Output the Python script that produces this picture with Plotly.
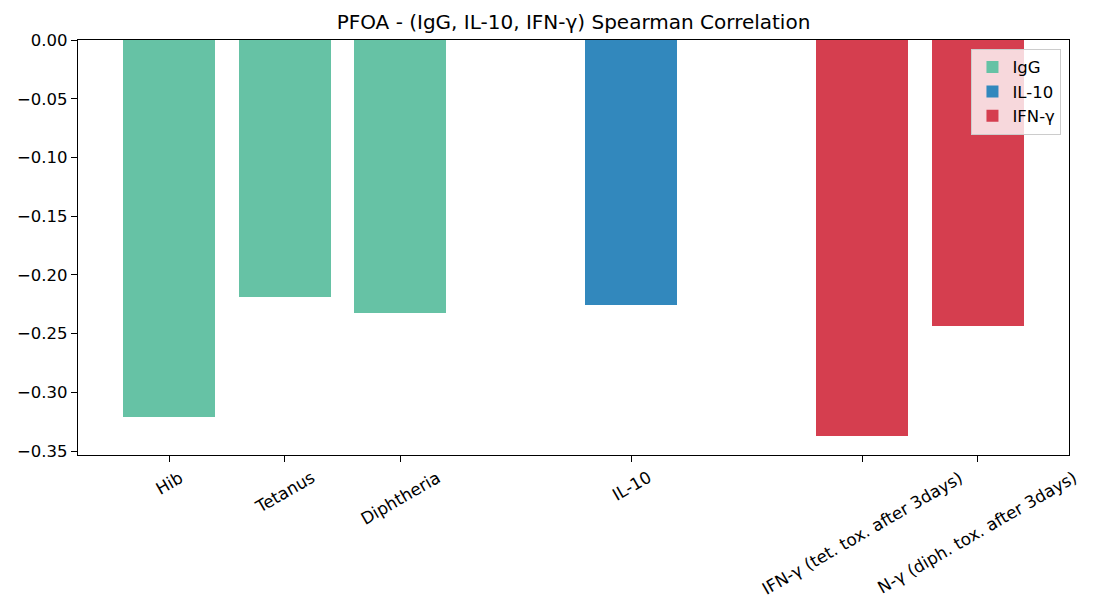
import plotly.graph_objects as go

# ---- data ----
groups = ["IgG", "IL-10", "IFN-γ"]
group_labels = [
    ["Hib", "Tetanus", "Diphtheria"],
    ["IL-10"],
    ["IFN-γ (tet. tox. after 3days)", "N-γ (diph. tox. after 3days)"],
]
group_values = [
    [-0.321, -0.219, -0.2325],
    [-0.2255],
    [-0.337, -0.2435],
]
group_colors = ["#66c2a5", "#3288bd", "#d53e4f"]
title_text = "PFOA - (IgG, IL-10, IFN-γ) Spearman Correlation"
y_ticks = [0.0, -0.05, -0.10, -0.15, -0.20, -0.25, -0.30, -0.35]

FONT = "DejaVu Sans"
TICK_SIZE = 16.5

fig = go.Figure()

all_pos = []
all_labels = []
idx = 0
for g, (name, labels, vals, col) in enumerate(zip(groups, group_labels, group_values, group_colors)):
    pos = []
    for lab in labels:
        pos.append(idx + g)  # one empty slot between groups
        all_labels.append(lab)
        idx += 1
    all_pos.extend(pos)
    fig.add_trace(go.Bar(
        x=pos, y=vals, name=name, width=0.8,
        marker=dict(color=col, line=dict(width=0)),
    ))

# rotated, centred tick labels (matplotlib style)
for p, lab in zip(all_pos, all_labels):
    fig.add_annotation(
        x=p, y=-0.022, xref="x", yref="paper",
        text=lab, textangle=-30, showarrow=False,
        xanchor="center", yanchor="top",
        font=dict(family=FONT, size=16.8, color="black"),
    )

span = max(all_pos) - min(all_pos) + 0.8
xmin = min(all_pos) - 0.4 - 0.05 * span
xmax = max(all_pos) + 0.4 + 0.05 * span

fig.update_layout(
    width=1093, height=600,
    margin=dict(l=78, r=23.5, t=39.5, b=145),
    paper_bgcolor="white", plot_bgcolor="white",
    font=dict(family=FONT, size=TICK_SIZE, color="black"),
    title=dict(
        text=title_text, x=0.5, xref="paper", xanchor="center",
        y=1, yref="paper", yanchor="bottom", pad=dict(b=11),
        font=dict(family=FONT, size=20, color="black"),
    ),
    bargap=0,
    showlegend=True,
    legend=dict(
        x=0.9924, xanchor="right", y=0.979, yanchor="top",
        bgcolor="rgba(255,255,255,0.8)", bordercolor="#cccccc", borderwidth=1,
        font=dict(family=FONT, size=TICK_SIZE, color="black"),
        traceorder="normal",
    ),
    xaxis=dict(
        range=[xmin, xmax], tickmode="array", tickvals=all_pos,
        showticklabels=False, ticks="outside", ticklen=6, tickwidth=1.3,
        tickcolor="black", showline=True, linecolor="black", linewidth=1.3,
        mirror=True, showgrid=False, zeroline=False,
    ),
    yaxis=dict(
        range=[-0.3534, 0.0], tickmode="array", tickvals=y_ticks,
        tickformat=".2f", ticks="outside", ticklen=6, tickwidth=1.3,
        tickcolor="black", showline=True, linecolor="black", linewidth=1.3,
        mirror=True, showgrid=False, zeroline=False,
        tickfont=dict(family=FONT, size=TICK_SIZE, color="black"),
    ),
)

fig.write_html(
    "out.html",
    config={"displayModeBar": False},
    post_script="document.body.style.margin='0';document.body.style.padding='0';",
)
